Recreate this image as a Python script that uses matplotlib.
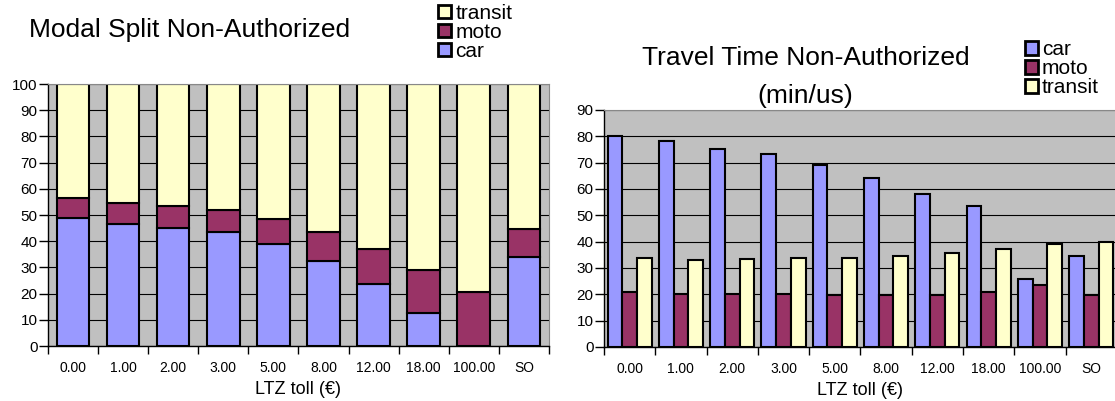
import numpy as np
import matplotlib.pyplot as plt
from matplotlib.patches import Patch
from matplotlib.ticker import FixedLocator

plt.rcParams['font.family'] = ['Liberation Sans', 'DejaVu Sans']

tolls = ['0.00', '1.00', '2.00', '3.00', '5.00', '8.00', '12.00', '18.00', '100.00', 'SO']

# modal split (%)
split_car = [49.0, 46.7, 45.2, 43.4, 38.9, 32.3, 23.6, 12.6, 0.0, 34.0]
split_moto = [7.4, 8.0, 8.4, 8.5, 9.6, 11.1, 13.3, 16.4, 20.7, 10.5]
split_transit = [100 - c - m for c, m in zip(split_car, split_moto)]

# travel time (min/us)
time_car = [80.0, 78.2, 75.1, 73.2, 69.1, 64.1, 58.1, 53.6, 25.8, 34.6]
time_moto = [20.8, 20.3, 20.1, 20.3, 19.8, 19.7, 19.9, 20.8, 23.5, 19.8]
time_transit = [33.7, 33.0, 33.5, 33.7, 33.9, 34.7, 35.7, 37.2, 39.0, 39.8]

c_car = '#9999FF'
c_moto = '#993366'
c_transit = '#FFFFCC'
edge = dict(edgecolor='black', linewidth=1.5)


def style_axes(ax, ymax):
    ax.set_facecolor('#C0C0C0')
    n = len(tolls)
    ax.set_xlim(-0.5, n - 0.5)
    ax.set_ylim(0, ymax)
    ax.set_yticks(np.arange(0, ymax + 1, 10))
    ax.yaxis.grid(True, color='black', linewidth=0.8)
    ax.set_axisbelow(True)
    ax.set_xticks(range(n))
    ax.set_xticklabels(tolls, fontsize=10)
    ax.xaxis.set_minor_locator(FixedLocator(np.arange(-0.5, n, 1)))
    ax.tick_params(axis='x', which='major', length=0, pad=11)
    ax.tick_params(axis='x', which='minor', length=6, width=1)
    ax.tick_params(axis='y', length=6.5, width=1, labelsize=11, pad=1)
    for s in ['top', 'right']:
        ax.spines[s].set_color('#888888')
    for s in ['left', 'bottom']:
        ax.spines[s].set_color('black')
        ax.spines[s].set_linewidth(1)
    ax.set_xlabel('LTZ toll (€)', fontsize=13, labelpad=4)


def legend(handles, x, y):
    fig.legend(handles=handles, loc='upper left', bbox_to_anchor=(x, y),
               frameon=False, fontsize=15, handlelength=0.62, handleheight=0.62,
               handletextpad=0.2, labelspacing=0.0, borderpad=0.0, borderaxespad=0)


fig = plt.figure(figsize=(11.15, 4.01), dpi=100)
x = np.arange(len(tolls))

# stacked modal split
ax1 = fig.add_axes([0.043, 0.137, 0.4493, 0.6534])
w = 0.65
ax1.bar(x, split_car, w, color=c_car, **edge)
ax1.bar(x, split_moto, w, bottom=split_car, color=c_moto, **edge)
bottom2 = [c + m for c, m in zip(split_car, split_moto)]
ax1.bar(x, split_transit, w, bottom=bottom2, color=c_transit, **edge)
style_axes(ax1, 100)
fig.text(0.026, 0.9077, 'Modal Split Non-Authorized', fontsize=19,
         ha='left', va='baseline')
legend([Patch(facecolor=c_transit, edgecolor='black', linewidth=2, label='transit'),
        Patch(facecolor=c_moto, edgecolor='black', linewidth=2, label='moto'),
        Patch(facecolor=c_car, edgecolor='black', linewidth=2, label='car')],
       0.393, 0.99)

# grouped travel times
ax2 = fig.add_axes([0.5417, 0.1347, 0.460, 0.591])
bw = 0.287
ax2.bar(x - bw, time_car, bw, color=c_car, **edge)
ax2.bar(x, time_moto, bw, color=c_moto, **edge)
ax2.bar(x + bw, time_transit, bw, color=c_transit, **edge)
style_axes(ax2, 90)
fig.text(0.7224, 0.838, 'Travel Time Non-Authorized', fontsize=19,
         ha='center', va='baseline')
fig.text(0.7224, 0.742, '(min/us)', fontsize=19, ha='center', va='baseline')
legend([Patch(facecolor=c_car, edgecolor='black', linewidth=2, label='car'),
        Patch(facecolor=c_moto, edgecolor='black', linewidth=2, label='moto'),
        Patch(facecolor=c_transit, edgecolor='black', linewidth=2, label='transit')],
       0.919, 0.90)

fig.savefig('out.png', dpi=100)
